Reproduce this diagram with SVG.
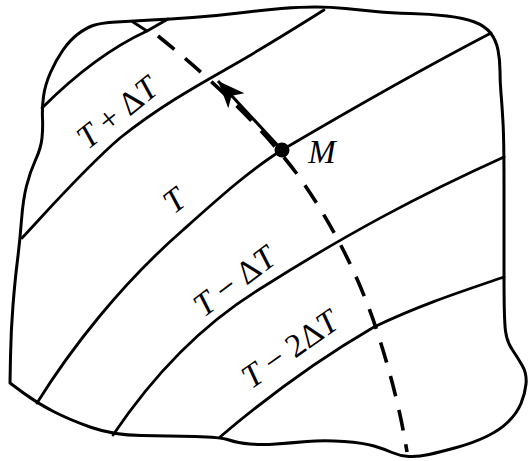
<svg xmlns="http://www.w3.org/2000/svg" width="528" height="461" viewBox="0 0 528 461">
<style>
.edge{fill:none;stroke:#000;stroke-width:3;stroke-linejoin:round;stroke-linecap:round}
.iso{fill:none;stroke:#000;stroke-width:2.8;stroke-linecap:round}
.dash{fill:none;stroke:#000;stroke-width:3.6;stroke-dasharray:21 14}
.lbl{font-family:"Liberation Serif","Times New Roman",serif;font-size:33px;fill:#000;text-anchor:middle}
.it{font-style:italic}
</style>
<defs>
<marker id="ah" markerUnits="userSpaceOnUse" markerWidth="28" markerHeight="24" viewBox="0 0 28 24" refX="27" refY="12" orient="auto">
<path d="M0,1 L27,12 L0,23 L7,12 Z" fill="#000"/>
</marker>
</defs>
<rect width="528" height="461" fill="#fff"/>
<g id="region">
<path class="edge" d="M 116.5,22 Q 133,21 151.5,20 Q 170,19 192.5,17.5 Q 215,16 239,13 Q 263,10 281.5,8.5 Q 300,7 315.5,7 Q 331,7 345.5,8.5 Q 360,10 375.5,11.5 Q 391,13 410.5,13.5 Q 430,14 447,16 Q 464,18 474.5,22 Q 485,26 490.5,33 Q 496,40 498,50 Q 500,60 500,71 Q 500,82 501,93.5 Q 502,105 503,122.5 Q 504,140 504,185 Q 504,230 504,275 Q 504,320 505.5,331 Q 507,342 512.5,350 Q 518,358 522.5,366 Q 527,374 526,384 Q 525,394 521,403.5 Q 517,413 508.5,421.5 Q 500,430 486.5,436.5 Q 473,443 456.5,447.5 Q 440,452 429,454.5 Q 418,457 409,456.5 Q 400,456 392,452.5 Q 384,449 374,446 Q 364,443 344,441.5 Q 324,440 307,441.5 Q 290,443 276,444 Q 262,445 250,444 Q 238,443 229,440 Q 220,437 195,436.5 Q 170,436 141.5,435.5 Q 113,435 91.5,427.5 Q 70,420 53.5,411.5 Q 37,403 23.5,393 L 10,383 L 10.5,356.5 Q 11,330 13,305 Q 15,280 17.5,260 Q 20,240 21.5,220 Q 23,200 26.5,186 Q 30,172 35.5,160 Q 41,148 42,138 Q 43,128 42.5,118 Q 42,108 43.5,96.5 Q 45,85 50.5,72.5 Q 56,60 63,50 Q 70,40 78,34 Q 86,28 93,25.5 Q 100,23 116.5,22 Z"/>
</g>
<g id="connectors">
<path id="iso1" class="iso" d="M42,108 Q95,55 147,31 M133,22 L147,31 L168,19"/>
<path id="iso2" class="iso" d="M22,238 C50,208 85,168 120,138 C160,106 200,84 230,67 C270,44 300,25 324,10"/>
<path id="iso3" class="iso" d="M37,403 C70,350 120,285 183,230 C220,197 250,170 282,150 C350,110 420,70 491,33"/>
<path id="iso4" class="iso" d="M113,435 C150,380 200,325 263,287 C350,232 420,195 504,157"/>
<path id="iso5" class="iso" d="M220,437 C240,420 300,370 374,327 C420,305 460,292 504,277"/>
<path id="gradpath" class="dash" d="M158,36 Q250,110 300,178 Q350,250 376,328 Q398,395 407,452"/>
<line id="arrow" x1="282" y1="150" x2="218" y2="81" stroke="#000" stroke-width="3" marker-end="url(#ah)"/>
</g>
<g id="pointM">
<circle cx="282" cy="150" r="7.5" fill="#000"/>
<text class="lbl it" x="322" y="163">M</text>
</g>
<g id="label-TpdT">
<text class="lbl" transform="translate(124,121) rotate(-39)"><tspan class="it">T</tspan> + Δ<tspan class="it">T</tspan></text>
</g>
<g id="label-T">
<text class="lbl it" transform="translate(181,209) rotate(-38)">T</text>
</g>
<g id="label-TmdT">
<text class="lbl" transform="translate(241,290) rotate(-37)"><tspan class="it">T</tspan> − Δ<tspan class="it">T</tspan></text>
</g>
<g id="label-Tm2dT">
<text class="lbl" transform="translate(296,358) rotate(-35)"><tspan class="it">T</tspan> − 2Δ<tspan class="it">T</tspan></text>
</g>
</svg>
